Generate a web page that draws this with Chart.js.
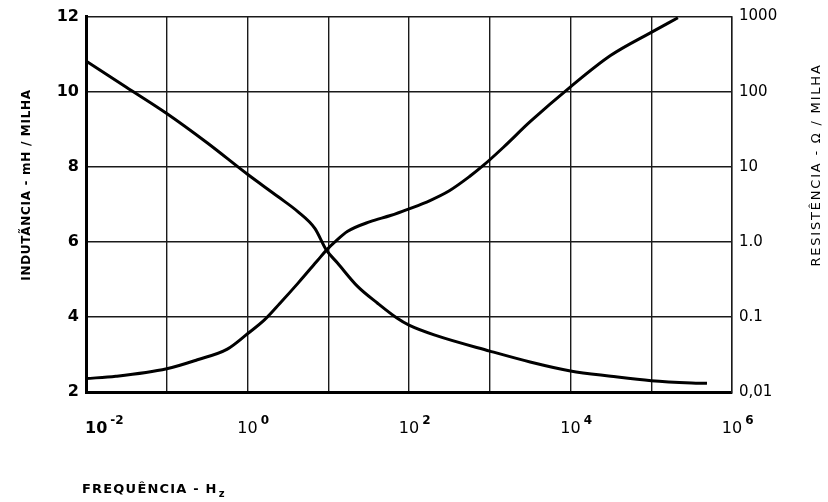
<!DOCTYPE html>
<html>
<head>
<meta charset="utf-8">
<script src="https://cdn.jsdelivr.net/npm/chart.js@4/dist/chart.umd.min.js"></script>
<style>
html,body{margin:0;padding:0;background:#fff;}
#wrap{width:828px;height:502px;position:relative;}
</style>
</head>
<body>
<div id="wrap"><canvas id="c" width="828" height="502"></canvas></div>
<script>
// ---- data ----
const freqL = [0.01, 0.0316, 0.1, 0.316, 1, 2.40, 4.23, 6.82, 9.5, 13.1, 22.9, 40.5, 70.8, 100, 219, 1000, 3162, 10000, 31623, 100000, 316228, 490000];
const inductance = [10.82, 10.12, 9.42, 8.64, 7.80, 7.20, 6.80, 6.36, 5.78, 5.43, 4.82, 4.37, 3.97, 3.78, 3.50, 3.09, 2.80, 2.56, 2.42, 2.30, 2.24, 2.23];
const freqR = [0.01, 0.0234, 0.1, 0.24, 0.562, 1, 1.62, 2.51, 4.23, 7.41, 9.5, 12.0, 17.4, 33.1, 58.9, 100, 182, 316, 562, 832, 1479, 3162, 10000, 31623, 100000, 213800];
const resistance = [0.0151, 0.0162, 0.0204, 0.0269, 0.0372, 0.0596, 0.0912, 0.151, 0.282, 0.569, 0.776, 0.989, 1.38, 1.86, 2.24, 2.75, 3.55, 4.79, 7.41, 10.4, 18.2, 39.8, 116, 305, 617, 966];
const xDecades = [0.01, 0.1, 1, 10, 100, 1000, 10000, 100000, 1000000];
const xLabelExps = [-2, 0, 2, 4, 6];
const leftTicks = [2, 4, 6, 8, 10, 12];
const rightTickValues = [0.01, 0.1, 1, 10, 100, 1000];
const rightTickLabels = ['0,01', '0.1', '1.0', '10', '100', '1000'];
const leftTitle = 'INDUTÃNCIA - mH / MILHA';
const rightTitle = 'RESISTÊNCIA - Ω / MILHA';
const bottomTitle = 'FREQUÊNCIA - H';
const bottomSub = 'z';

const FONT = '"DejaVu Sans", "Liberation Sans", sans-serif';

const textPlugin = {
  id: 'texts',
  afterDraw(chart) {
    const ctx = chart.ctx;
    const xs = chart.scales.x;
    ctx.save();
    ctx.fillStyle = '#000';
    // x tick labels with superscripts
    xLabelExps.forEach((e, i) => {
      const px = xs.getPixelForValue(Math.pow(10, e));
      ctx.font = (i === 0 ? 'bold ' : '') + '16px ' + FONT;
      ctx.textBaseline = 'alphabetic';
      const w = ctx.measureText('10').width;
      let left = (i === 0) ? px - 1 : px - w / 2;
      ctx.textAlign = 'left';
      ctx.fillText('10', left, 433);
      ctx.font = 'bold 12px ' + FONT;
      ctx.fillText(e < 0 ? '-' + Math.abs(e) : String(e), left + w + 3, 424);
    });
    // left title
    ctx.font = 'bold 12px ' + FONT;
    ctx.textAlign = 'center';
    ctx.textBaseline = 'middle';
    ctx.save();
    ctx.translate(27, 185);
    ctx.rotate(-Math.PI / 2);
    ctx.letterSpacing = '0.7px';
    ctx.fillText(leftTitle, 0, 0);
    ctx.restore();
    // right title
    ctx.save();
    ctx.translate(817, 165);
    ctx.rotate(-Math.PI / 2);
    ctx.font = '13px ' + FONT;
    ctx.letterSpacing = '1.8px';
    ctx.fillText(rightTitle, 0, 0);
    ctx.restore();
    // bottom title
    ctx.font = 'bold 13px ' + FONT;
    ctx.textAlign = 'left';
    ctx.textBaseline = 'alphabetic';
    ctx.letterSpacing = '1.2px';
    ctx.fillText(bottomTitle, 82, 493);
    const bw = ctx.measureText(bottomTitle).width;
    ctx.font = 'bold 10px ' + FONT;
    ctx.fillText(bottomSub, 82 + bw + 1, 497);
    ctx.restore();
  }
};

new Chart(document.getElementById('c'), {
  type: 'line',
  data: {
    datasets: [
      {
        label: 'Indutância',
        data: freqL.map((f, i) => ({x: f, y: inductance[i]})),
        yAxisID: 'y',
        borderColor: '#000',
        borderWidth: 3,
        pointRadius: 0,
        cubicInterpolationMode: 'monotone',
        fill: false
      },
      {
        label: 'Resistência',
        data: freqR.map((f, i) => ({x: f, y: resistance[i]})),
        yAxisID: 'y1',
        borderColor: '#000',
        borderWidth: 3,
        pointRadius: 0,
        cubicInterpolationMode: 'monotone',
        fill: false
      }
    ]
  },
  options: {
    responsive: false,
    animation: false,
    layout: {padding: {top: 14, left: 0, right: 0, bottom: 0}},
    plugins: {legend: {display: false}, tooltip: {enabled: false}},
    scales: {
      x: {
        type: 'logarithmic',
        min: 0.01,
        max: 1000000,
        afterBuildTicks: s => { s.ticks = xDecades.map(v => ({value: v})); },
        afterFit: s => { s.height = 110; },
        ticks: {display: false},
        grid: {color: '#1a1a1a', lineWidth: 1.4, drawTicks: false},
        border: {color: '#000', width: 3}
      },
      y: {
        position: 'left',
        min: 2,
        max: 12,
        afterBuildTicks: s => { s.ticks = leftTicks.map(v => ({value: v})); },
        afterFit: s => { s.width = 86; },
        ticks: {color: '#000', font: {family: FONT, size: 16, weight: 'bold'}, padding: 7},
        grid: {color: '#1a1a1a', lineWidth: 1.4, drawTicks: false},
        border: {color: '#000', width: 3}
      },
      y1: {
        position: 'right',
        type: 'logarithmic',
        min: 0.01,
        max: 1000,
        afterBuildTicks: s => { s.ticks = rightTickValues.map(v => ({value: v})); },
        afterFit: s => { s.width = 96; },
        ticks: {
          color: '#000',
          font: {family: FONT, size: 15},
          padding: 7,
          callback: (v) => {
            const i = rightTickValues.findIndex(t => Math.abs(Math.log10(t) - Math.log10(v)) < 1e-6);
            return i >= 0 ? rightTickLabels[i] : '';
          }
        },
        grid: {display: false, drawTicks: false},
        border: {display: true, color: '#1a1a1a', width: 1.4}
      }
    }
  },
  plugins: [textPlugin]
});
</script>
</body>
</html>
